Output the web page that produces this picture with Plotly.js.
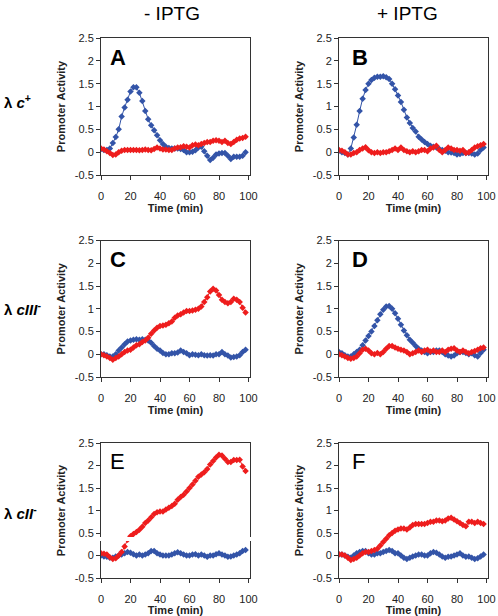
<!DOCTYPE html>
<html>
<head>
<meta charset="utf-8">
<script src="https://cdn.plot.ly/plotly-3.0.1.min.js"></script>
<style>html,body{margin:0;padding:0;background:#fff;}#chart{width:498px;height:616px;}</style>
</head>
<body>
<div id="chart"></div>
<script>
// Time points (min)
const time = [0,2,4,6,8,10,12,14,16,18,20,22,24,26,28,30,32,34,36,38,40,42,44,46,48,50,52,54,56,58,60,62,64,66,68,70,72,74,76,78,80,82,84,86,88,90,92,94,96,98];

// Panel A: lambda c+, - IPTG
const aBlue = [0.07,0.05,0.05,0.08,0.2,0.33,0.5,0.78,0.98,1.15,1.33,1.42,1.42,1.3,1.12,0.9,0.72,0.59,0.48,0.37,0.26,0.18,0.12,0.09,0.08,0.08,0.08,0.07,0.05,0.0,0.0,0.01,0.04,0.1,0.12,0.02,-0.08,-0.17,-0.12,-0.05,-0.03,-0.02,-0.02,-0.08,-0.15,-0.1,-0.1,-0.1,-0.08,0.0];
const aRed = [0.08,0.06,0.02,-0.02,-0.06,-0.05,0.0,0.03,0.05,0.05,0.05,0.05,0.05,0.04,0.05,0.06,0.05,0.04,0.07,0.1,0.08,0.06,0.06,0.05,0.05,0.08,0.1,0.11,0.13,0.12,0.1,0.15,0.17,0.15,0.18,0.2,0.22,0.22,0.25,0.26,0.25,0.22,0.25,0.2,0.18,0.22,0.27,0.3,0.31,0.34];

// Panel B: lambda c+, + IPTG
const bBlue = [0.03,0.0,-0.02,-0.05,0.08,0.32,0.6,0.9,1.17,1.36,1.5,1.58,1.63,1.65,1.65,1.66,1.64,1.6,1.5,1.38,1.24,1.1,0.93,0.76,0.64,0.53,0.45,0.34,0.28,0.22,0.18,0.14,0.12,0.1,0.07,0.05,0.03,0.0,-0.01,-0.02,-0.05,-0.04,-0.02,-0.02,-0.02,-0.03,-0.05,-0.03,0.05,0.1];
const bRed = [0.05,0.03,0.0,-0.05,-0.05,-0.02,0.0,0.05,0.08,0.11,0.04,0.0,-0.02,0.0,-0.02,0.0,0.0,0.02,0.05,0.08,0.05,0.1,0.05,0.02,0.0,0.02,0.0,0.02,0.05,0.05,0.02,0.08,0.1,0.14,0.05,0.0,0.05,0.1,0.08,0.05,0.05,0.03,0.05,-0.02,0.0,0.05,0.1,0.13,0.15,0.18];

// Panel C: lambda cIII-, - IPTG
const cBlue = [0.0,0.0,-0.02,-0.05,-0.05,0.0,0.08,0.15,0.22,0.28,0.3,0.32,0.33,0.32,0.33,0.32,0.3,0.25,0.18,0.12,0.08,0.03,0.0,0.0,0.02,0.02,0.04,0.08,0.05,0.02,-0.02,0.0,-0.01,-0.02,0.0,-0.02,-0.03,-0.02,-0.03,0.0,0.0,0.05,0.0,-0.03,-0.07,-0.06,-0.05,-0.02,0.05,0.1];
const cRed = [0.0,-0.02,-0.05,-0.08,-0.12,-0.08,-0.05,0.0,0.05,0.08,0.1,0.15,0.2,0.22,0.27,0.3,0.36,0.45,0.52,0.58,0.62,0.63,0.65,0.68,0.72,0.8,0.85,0.88,0.92,0.95,0.95,0.96,0.98,1.0,1.05,1.15,1.25,1.38,1.44,1.4,1.3,1.2,1.15,1.12,1.15,1.22,1.2,1.15,1.02,0.92];

// Panel D: lambda cIII-, + IPTG
const dBlue = [0.05,0.02,-0.02,-0.05,-0.05,0.0,0.05,0.1,0.2,0.3,0.4,0.5,0.62,0.75,0.88,0.98,1.05,1.06,1.0,0.9,0.78,0.65,0.52,0.42,0.32,0.25,0.18,0.12,0.08,0.05,0.02,0.05,0.05,0.08,0.08,0.05,0.0,-0.03,-0.05,-0.03,0.02,0.05,0.05,0.03,0.0,0.02,-0.02,-0.05,0.03,0.1];
const dRed = [0.0,-0.02,-0.05,-0.08,-0.1,-0.08,-0.05,0.02,0.1,0.12,0.08,0.02,0.0,0.03,0.0,0.05,0.12,0.18,0.18,0.15,0.12,0.1,0.08,0.05,0.0,0.02,0.05,0.08,0.05,0.08,0.1,0.06,0.08,0.05,0.05,0.08,0.05,0.1,0.12,0.13,0.08,0.05,0.08,0.05,0.02,0.05,0.07,0.1,0.13,0.15];

// Panel E: lambda cII-, - IPTG
const eBlue = [0.0,-0.02,-0.03,-0.05,-0.05,-0.02,0.0,0.02,0.05,0.08,0.06,0.03,0.0,0.02,0.0,0.02,0.05,0.1,0.1,0.05,0.02,0.0,0.0,0.0,0.02,0.05,0.07,0.05,0.02,0.0,0.0,0.02,0.03,0.0,0.02,0.0,-0.03,0.0,0.0,0.03,0.05,0.02,0.0,-0.03,-0.02,0.0,0.02,0.05,0.1,0.12];
const eRed = [0.05,0.04,0.02,-0.04,-0.08,-0.06,0.0,0.08,0.2,0.35,0.43,0.48,0.52,0.57,0.64,0.72,0.78,0.85,0.92,0.96,0.98,0.98,1.02,1.06,1.1,1.15,1.24,1.3,1.35,1.42,1.5,1.58,1.66,1.75,1.8,1.85,1.92,2.02,2.1,2.18,2.24,2.22,2.15,2.08,2.08,2.12,2.12,2.13,1.98,1.88];

// Panel F: lambda cII-, + IPTG
const fBlue = [0.02,0.02,0.0,-0.03,-0.05,0.0,0.05,0.08,0.1,0.1,0.05,0.02,0.02,0.05,0.05,0.08,0.1,0.12,0.1,0.05,0.05,0.0,-0.05,-0.08,-0.05,-0.02,0.0,0.02,0.02,0.0,0.0,0.05,0.08,0.06,0.02,-0.02,-0.05,-0.03,-0.02,0.0,0.02,0.05,0.0,-0.03,-0.02,-0.05,-0.08,-0.06,-0.02,0.02];
const fRed = [0.03,0.02,0.0,-0.05,-0.1,-0.08,-0.05,0.0,0.05,0.08,0.08,0.1,0.12,0.15,0.22,0.3,0.37,0.45,0.5,0.55,0.58,0.6,0.6,0.58,0.62,0.68,0.7,0.7,0.7,0.7,0.72,0.75,0.75,0.78,0.78,0.76,0.78,0.82,0.84,0.8,0.76,0.72,0.68,0.65,0.75,0.75,0.72,0.75,0.72,0.7];

const panelLetters = ['A','B','C','D','E','F'];
const columnHeaders = ['- IPTG','+ IPTG'];
const rowLabels = ['<b>λ <i>c</i><sup>+</sup></b>','<b>λ <i>cIII</i><sup>-</sup></b>','<b>λ <i>cII</i><sup>-</sup></b>'];
const xTicks = [0,20,40,60,80,100];
const yTicks = [-0.5,0,0.5,1,1.5,2,2.5];
const yTickText = ['-0.5','0','0.5','1','1.5','2','2.5'];

const blueSeries = [aBlue,bBlue,cBlue,dBlue,eBlue,fBlue];
const redSeries = [aRed,bRed,cRed,dRed,eRed,fRed];

const BLUE = '#3354a8';
const RED = '#ee1d1d';
const W = 498, H = 616;
const colX = [[101,250],[339,488]];
const rowY = [[38,175],[240.5,377],[443,578]];
const FONT = 'Liberation Sans, Arial, sans-serif';

const traces = [];
const layout = {
  width: W, height: H,
  margin: {l:0,r:0,t:0,b:0},
  paper_bgcolor: '#fff', plot_bgcolor: '#fff',
  showlegend: false,
  font: {family: FONT, color: '#222'},
  annotations: [], shapes: []
};

for (let p = 0; p < 6; p++) {
  const col = p % 2, row = Math.floor(p / 2);
  const sfx = p === 0 ? '' : String(p + 1);
  const xa = 'x' + sfx, ya = 'y' + sfx;
  traces.push({x: time, y: blueSeries[p], xaxis: xa, yaxis: ya, type: 'scatter', mode: 'lines+markers',
    line: {color: BLUE, width: 1}, marker: {symbol: 'diamond', size: 5, color: BLUE}});
  traces.push({x: time, y: redSeries[p], xaxis: xa, yaxis: ya, type: 'scatter', mode: 'lines+markers',
    line: {color: RED, width: 1}, marker: {symbol: 'diamond', size: 5, color: RED}});
  const common = {showline: true, linecolor: '#333', linewidth: 1, mirror: true, showgrid: false, zeroline: false,
    ticks: 'outside', ticklen: 4, tickcolor: '#333', tickwidth: 1,
    tickfont: {family: FONT, size: 11, color: '#222'}};
  layout['xaxis' + sfx] = Object.assign({}, common, {
    domain: [colX[col][0] / W, colX[col][1] / W], range: [0, 101], anchor: ya,
    tickvals: xTicks, ticklabelstandoff: 7,
    title: {text: '<b>Time (min)</b>', font: {family: FONT, size: 11, color: '#222'}, standoff: 1}
  });
  layout['yaxis' + sfx] = Object.assign({}, common, {
    domain: [1 - rowY[row][1] / H, 1 - rowY[row][0] / H], range: [-0.5, 2.5], anchor: xa,
    tickvals: yTicks, ticktext: yTickText,
    title: {text: '<b>Promoter Activity</b>', font: {family: FONT, size: 11, color: '#222'}, standoff: 6}
  });
  layout.annotations.push({xref: xa + ' domain', yref: ya + ' domain', x: col === 0 ? 0.05 : 0.075, y: 0.86,
    xanchor: 'left', yanchor: 'middle', showarrow: false,
    text: p < 4 ? '<b>' + panelLetters[p] + '</b>' : panelLetters[p],
    font: {family: FONT, size: 22, color: '#000'}});
}
// column headers
layout.annotations.push({xref: 'paper', yref: 'paper', x: 172 / W, y: 1 - 14 / H, xanchor: 'center', yanchor: 'middle',
  showarrow: false, text: columnHeaders[0], font: {family: FONT, size: 19, color: '#000'}});
layout.annotations.push({xref: 'paper', yref: 'paper', x: 407 / W, y: 1 - 14 / H, xanchor: 'center', yanchor: 'middle',
  showarrow: false, text: columnHeaders[1], font: {family: FONT, size: 19, color: '#000'}});
// row labels
const rowLabelY = [101, 308, 512];
for (let r = 0; r < 3; r++) {
  layout.annotations.push({xref: 'paper', yref: 'paper', x: 2 / W, y: 1 - rowLabelY[r] / H, xanchor: 'left', yanchor: 'middle',
    showarrow: false, text: rowLabels[r], font: {family: FONT, size: 15, color: '#000'}});
}
// scan artifact: thin white stripe across panel E
layout.shapes.push({type: 'rect', xref: 'paper', yref: 'paper', x0: 95 / W, x1: 254 / W, y0: 1 - 541 / H, y1: 1 - 537 / H,
  fillcolor: '#fff', line: {width: 0}, layer: 'above'});

Plotly.newPlot('chart', traces, layout, {staticPlot: true, displayModeBar: false});
</script>
</body>
</html>
